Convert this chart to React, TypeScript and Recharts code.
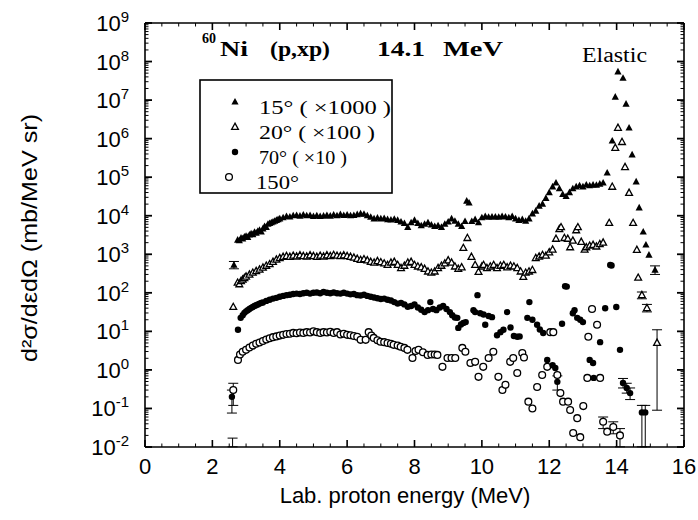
import React from 'react';
import { ScatterChart, Scatter, XAxis, YAxis, ErrorBar } from 'recharts';

// [energy MeV, plotted value] or [energy, value, errLow, errHigh]
type Pt = number[];

const xMajor = [0, 2, 4, 6, 8, 10, 12, 14, 16];
const xTickLabels = ['0', '2', '4', '6', '8', '10', '12', '14', '16'];
const yMajor = [1e-2, 1e-1, 1, 10, 100, 1e3, 1e4, 1e5, 1e6, 1e7, 1e8, 1e9];
const yExp = ['-2', '-1', '0', '1', '2', '3', '4', '5', '6', '7', '8', '9'];

const legendLabels = ['15° ( ×1000 )', '20° ( ×100 )', '70° ( ×10 )', '150°'];

// 15 deg (x1000), filled triangles
const s15: Pt[] = [
  [2.64, 525, 420, 650],
  [2.75, 2340], [2.8, 2240], [2.85, 2630], [2.9, 2510], [2.95, 2820], [3.0, 2950], [3.05, 2750],
  [3.1, 3160], [3.15, 3390], [3.2, 3240], [3.25, 3720], [3.3, 3550], [3.35, 3980], [3.4, 4170],
  [3.45, 3800], [3.5, 4570], [3.55, 5250], [3.6, 5010], [3.65, 6030], [3.7, 6310], [3.75, 6610],
  [3.8, 6920], [3.85, 7240], [3.9, 7590], [3.95, 7940], [4.0, 8320], [4.1, 8910], [4.2, 9550],
  [4.3, 9330], [4.4, 10000], [4.5, 10200], [4.6, 9770], [4.7, 10500], [4.8, 10000], [4.9, 10200],
  [5.0, 9550], [5.1, 10000], [5.2, 9550], [5.3, 9770], [5.4, 10200], [5.5, 9770], [5.6, 10500],
  [5.7, 10000], [5.8, 10700], [5.9, 10200], [6.0, 10500], [6.1, 10000], [6.2, 10200], [6.3, 10700],
  [6.4, 11200], [6.5, 11000], [6.6, 10000], [6.7, 9120], [6.8, 8320], [6.9, 8710], [7.0, 8320],
  [7.1, 8510], [7.2, 7940], [7.3, 7760], [7.4, 8130], [7.5, 7590], [7.6, 6920], [7.7, 6310],
  [7.8, 5010], [7.9, 6610], [8.0, 7590], [8.1, 6310], [8.2, 5500], [8.3, 6030], [8.4, 6610],
  [8.5, 5750], [8.6, 5250], [8.7, 5500], [8.8, 5010], [8.9, 6030], [9.0, 6920], [9.1, 8320],
  [9.2, 7240], [9.3, 6030], [9.4, 5250], [9.5, 7080], [9.55, 24000], [9.62, 21400], [9.7, 7080],
  [9.8, 7940], [9.9, 6610], [10.0, 8910], [10.1, 9550], [10.2, 9120], [10.3, 9330], [10.4, 9330],
  [10.5, 9120], [10.6, 9550], [10.7, 9330], [10.8, 8910], [10.9, 9550], [11.0, 8320], [11.1, 7590],
  [11.2, 7940], [11.3, 7240], [11.4, 8320], [11.5, 11200], [11.6, 13200], [11.7, 17800], [11.8, 20000],
  [11.9, 28200], [12.0, 39800], [12.1, 56200], [12.2, 70800], [12.3, 50100], [12.4, 35500],
  [12.5, 31600], [12.6, 39800], [12.7, 50100], [12.8, 56200], [12.9, 60300], [13.0, 56200],
  [13.1, 63100], [13.2, 60300], [13.3, 63100], [13.4, 61700], [13.5, 66100], [13.6, 70800],
  [13.72, 129000], [13.87, 871000], [13.96, 1.2e7], [14.04, 5.4e7], [14.19, 3.7e7], [14.28, 7.9e6],
  [14.37, 1.9e6], [14.46, 3.8e5], [14.58, 7.6e4], [14.67, 1.6e4], [14.79, 3800], [14.87, 1740],
  [14.96, 955], [15.14, 390, 300, 500],
];

// 20 deg (x100), open triangles
const s20: Pt[] = [
  [2.62, 42.7],
  [2.75, 182], [2.8, 166], [2.85, 200], [2.9, 219], [2.95, 240], [3.0, 263], [3.1, 295], [3.2, 331],
  [3.3, 363], [3.4, 398], [3.5, 447], [3.6, 501], [3.7, 550], [3.8, 631], [3.9, 724], [4.0, 794],
  [4.1, 851], [4.2, 891], [4.3, 851], [4.4, 912], [4.5, 871], [4.6, 933], [4.7, 891], [4.8, 871],
  [4.9, 933], [5.0, 891], [5.1, 851], [5.2, 912], [5.3, 871], [5.4, 933], [5.5, 891], [5.6, 955],
  [5.7, 912], [5.8, 891], [5.9, 933], [6.0, 891], [6.1, 851], [6.2, 813], [6.3, 759], [6.4, 708],
  [6.5, 741], [6.6, 692], [6.7, 631], [6.8, 603], [6.9, 661], [7.0, 617], [7.1, 575], [7.2, 525],
  [7.3, 603], [7.4, 631], [7.5, 525], [7.6, 437], [7.7, 501], [7.8, 603], [7.9, 631], [8.0, 525],
  [8.1, 479], [8.2, 457], [8.3, 417], [8.4, 355], [8.5, 331], [8.6, 355], [8.7, 437], [8.8, 501],
  [8.9, 575], [9.0, 692], [9.1, 603], [9.2, 479], [9.3, 417], [9.4, 457], [9.45, 1450], [9.57, 2630],
  [9.69, 851], [9.8, 525], [9.9, 347], [10.0, 479], [10.05, 525], [10.15, 437], [10.25, 479],
  [10.35, 525], [10.45, 437], [10.55, 501], [10.65, 525], [10.75, 457], [10.85, 501], [10.95, 479],
  [11.05, 437], [11.15, 355], [11.23, 257], [11.3, 331], [11.4, 355], [11.5, 389], [11.6, 794],
  [11.7, 871], [11.8, 955], [11.9, 912], [12.0, 1120], [12.1, 1320], [12.2, 2510], [12.3, 4470],
  [12.35, 5010], [12.45, 2630], [12.55, 2510], [12.62, 1510], [12.7, 2240], [12.8, 4170],
  [12.85, 5010], [12.95, 2090], [13.05, 1320], [13.1, 1510], [13.2, 1660], [13.3, 1740],
  [13.4, 1580], [13.5, 1820], [13.6, 2000], [13.78, 6460], [13.87, 56200], [13.96, 575000],
  [14.04, 1.9e6], [14.16, 813000], [14.25, 182000], [14.37, 38900], [14.49, 6460], [14.6, 1290],
  [14.64, 245], [14.75, 87, 70, 105], [14.9, 40, 32, 50], [15.2, 5, 0.09, 11],
];

// 70 deg (x10), filled circles
const s70: Pt[] = [
  [2.58, 0.2, 0.076, 0.3], [2.76, 11],
  [2.84, 22.4], [2.9, 26.3], [2.95, 30.2], [3.0, 33.1], [3.05, 35.5], [3.1, 38], [3.15, 40.7],
  [3.2, 42.7], [3.25, 45.7], [3.3, 47.9], [3.35, 50.1], [3.4, 52.5], [3.45, 54.9], [3.5, 56.2],
  [3.6, 61.7], [3.7, 66.1], [3.8, 70.8], [3.9, 74.1], [4.0, 79.4], [4.1, 83.2], [4.2, 87.1],
  [4.3, 89.1], [4.4, 93.3], [4.5, 95.5], [4.6, 93.3], [4.7, 97.7], [4.8, 100], [4.9, 95.5],
  [5.0, 100], [5.1, 102], [5.2, 97.7], [5.3, 105], [5.4, 100], [5.5, 97.7], [5.6, 102], [5.7, 97.7],
  [5.8, 95.5], [5.9, 100], [6.0, 95.5], [6.1, 91.2], [6.2, 93.3], [6.3, 87.1], [6.4, 85.1],
  [6.5, 89.1], [6.6, 83.2], [6.7, 79.4], [6.8, 75.9], [6.9, 72.4], [7.0, 69.2], [7.1, 70.8],
  [7.2, 66.1], [7.3, 63.1], [7.4, 57.5], [7.5, 52.5], [7.6, 55], [7.7, 50.1], [7.8, 43.7],
  [7.9, 45.7], [8.0, 50.1], [8.1, 41.7], [8.2, 36.3], [8.3, 31.6], [8.4, 35.5], [8.47, 57.5],
  [8.55, 38], [8.65, 35.5], [8.75, 41.7], [8.85, 45.7], [8.95, 38], [9.05, 31.6], [9.12, 26.3],
  [9.2, 22.9], [9.27, 22.4], [9.3, 12.3], [9.38, 15.1], [9.45, 16.6], [9.52, 17.4], [9.75, 35.5],
  [9.8, 31.6], [9.87, 87.1], [9.95, 29.5], [10.05, 27.5], [10.1, 14.8], [10.2, 25.1], [10.3, 23.4],
  [10.45, 7.94], [10.55, 9.55], [10.64, 11], [10.75, 31.6], [10.85, 12.6], [10.95, 7.59],
  [11.05, 7.24], [11.12, 7.41], [11.35, 22.4], [11.41, 57.5], [11.5, 20], [11.64, 14.8],
  [11.72, 11.2], [11.82, 9.1], [11.94, 1.82], [12.1, 1.32], [12.18, 1.12], [12.24, 0.49, 0.3, 0.7],
  [12.38, 15.8], [12.47, 148], [12.52, 145], [12.7, 29.5], [12.75, 35.5], [12.83, 22.4],
  [12.92, 20], [13.0, 17.4], [13.2, 1.82], [13.3, 1.51], [13.32, 0.62], [13.51, 5.25], [13.66, 39.8],
  [13.81, 525], [13.85, 510], [13.99, 42.7], [14.1, 3.31], [14.19, 0.46, 0.34, 0.6],
  [14.3, 0.34, 0.25, 0.45], [14.4, 0.25, 0.17, 0.34], [14.75, 0.079, 0.0101, 0.12],
  [14.85, 0.079, 0.0101, 0.12],
];

// 150 deg, open circles
const s150: Pt[] = [
  [2.62, 0.3, 0.12, 0.45],
  [2.76, 1.82], [2.82, 2.51], [2.9, 2.95], [3.0, 3.31], [3.1, 3.8], [3.2, 4.27], [3.3, 4.79],
  [3.4, 5.13], [3.5, 5.62], [3.6, 6.17], [3.7, 6.61], [3.8, 7.08], [3.9, 7.41], [4.0, 7.76],
  [4.1, 8.13], [4.2, 8.51], [4.3, 8.71], [4.4, 9.12], [4.5, 8.91], [4.6, 9.33], [4.7, 9.12],
  [4.8, 9.55], [4.9, 9.33], [5.0, 10], [5.1, 9.55], [5.2, 9.12], [5.3, 9.55], [5.4, 9.33],
  [5.5, 9.77], [5.6, 9.12], [5.7, 9.55], [5.8, 8.32], [5.9, 8.71], [6.0, 8.13], [6.1, 7.94],
  [6.2, 7.59], [6.3, 7.24], [6.4, 6.03], [6.55, 6.03], [6.64, 9.55], [6.72, 7.76], [6.79, 6.76],
  [6.9, 5.89], [6.99, 5.37], [7.1, 5.25], [7.2, 5.01], [7.3, 4.79], [7.38, 4.47], [7.5, 4.27],
  [7.59, 3.98], [7.7, 3.72], [7.79, 3.31], [7.94, 2.04], [8.03, 3.09], [8.12, 3.31], [8.25, 2.88],
  [8.39, 2.45], [8.5, 2.51], [8.6, 2.51], [8.68, 2.45], [8.83, 1.2], [8.98, 2.04], [9.1, 2.04],
  [9.21, 2.04], [9.42, 3.72], [9.51, 2.95], [9.66, 1.51], [9.8, 1.62], [9.9, 0.66], [10.04, 1.2],
  [10.2, 2.04], [10.34, 2.95], [10.49, 0.66], [10.61, 0.3], [10.7, 0.41], [10.84, 1.62],
  [10.93, 2.04], [11.05, 0.83], [11.2, 2.75], [11.25, 2.1], [11.38, 0.15], [11.5, 0.1],
  [11.64, 0.36], [11.79, 0.74], [11.94, 1.2], [12.03, 9.55], [12.12, 9.55], [12.24, 0.74],
  [12.33, 0.25], [12.41, 0.15], [12.56, 0.15], [12.62, 0.091], [12.71, 0.023], [12.83, 0.056],
  [12.92, 0.018], [13.01, 0.115], [13.13, 0.62], [13.16, 7.24], [13.27, 38], [13.42, 14.8],
  [13.51, 0.62], [13.6, 0.045, 0.03, 0.06], [13.72, 0.025], [13.9, 0.033, 0.022, 0.045],
  [14.1, 0.02, 0.0101, 0.03],
];

// bare error bars without a marker
const sBare: Pt[] = [[2.6, 0.0125, 0.0101, 0.017]];

const rows = (pts: Pt[]) =>
  pts.map(([x, y, lo, hi]) => ({ x, y, err: lo !== undefined ? [y - lo, hi - y] : undefined }));

const xMinor: number[] = [];
for (let i = 0; i <= 32; i++) xMinor.push(i / 2);
const yMinor: number[] = [];
yMajor.slice(0, -1).forEach((d) => {
  for (let k = 2; k <= 9; k++) yMinor.push(d * k);
});
const yTicks = [...yMajor, ...yMinor];

const sans = 'Liberation Sans, Arial, sans-serif';
const serif = 'Liberation Serif, Times New Roman, serif';

const TriFilled = (p: any) => (
  <polygon points={`${p.cx},${p.cy - 4} ${p.cx - 3.6},${p.cy + 2.6} ${p.cx + 3.6},${p.cy + 2.6}`} fill="#000" />
);
const TriOpen = (p: any) => (
  <polygon points={`${p.cx},${p.cy - 3.8} ${p.cx - 3.4},${p.cy + 2.4} ${p.cx + 3.4},${p.cy + 2.4}`} fill="#fff" stroke="#000" strokeWidth={1.3} />
);
const DotFilled = (p: any) => <circle cx={p.cx} cy={p.cy} r={3.2} fill="#000" />;
const DotOpen = (p: any) => <circle cx={p.cx} cy={p.cy} r={3.4} fill="#fff" stroke="#000" strokeWidth={1.3} />;
const NoMark = () => <g />;

// plot frame: x 145..684, y 23..447
const LEFT = 145;
const RIGHT = 684;
const TOP = 23;
const BOTTOM = 447;

const YTick = (props: any) => {
  const { y, payload, side } = props;
  const idx = yMajor.indexOf(payload.value);
  const major = idx >= 0;
  const x = side === 'left' ? LEFT : RIGHT;
  const dir = side === 'left' ? 1 : -1;
  return (
    <g>
      <line x1={x} x2={x + dir * (major ? 7 : 3.5)} y1={y} y2={y} stroke="#000" strokeWidth={major ? 1.8 : 1} />
      {major && side === 'left' && (
        <text x={x - 16} y={y + 8} textAnchor="end" fontFamily={sans} fontSize={22} fill="#000">
          10<tspan dy={-9} fontSize={15}>{yExp[idx]}</tspan>
        </text>
      )}
    </g>
  );
};

const XTick = (props: any) => {
  const { x, payload, side } = props;
  const idx = xMajor.indexOf(payload.value);
  const major = idx >= 0;
  const y = side === 'bottom' ? BOTTOM : TOP;
  const dir = side === 'bottom' ? -1 : 1;
  return (
    <g>
      <line x1={x} x2={x} y1={y} y2={y + dir * (major ? 7 : 3.5)} stroke="#000" strokeWidth={major ? 1.6 : 1} />
      {major && side === 'bottom' && (
        <text x={x} y={y + 27} textAnchor="middle" fontFamily={sans} fontSize={22} fill="#000">
          {xTickLabels[idx]}
        </text>
      )}
    </g>
  );
};

const LegendMark = ({ i, x, y }: { i: number; x: number; y: number }) => {
  const p = { cx: x, cy: y };
  if (i === 0) return <TriFilled {...p} />;
  if (i === 1) return <TriOpen {...p} />;
  if (i === 2) return <DotFilled {...p} />;
  return <DotOpen {...p} />;
};

export default function App() {
  const bar = <ErrorBar dataKey="err" direction="y" width={5} stroke="#000" strokeWidth={1} />;
  const axisLine = { stroke: '#000', strokeWidth: 1.6 };
  return (
    <div style={{ position: 'absolute', left: 0, top: 0, width: 698, height: 520, background: '#fff' }}>
      <ScatterChart width={698} height={520} margin={{ top: TOP - 2, right: 698 - RIGHT - 2, bottom: 520 - BOTTOM - 2, left: LEFT - 2 }}>
        <XAxis
          xAxisId="b" dataKey="x" type="number" domain={[0, 16]} ticks={xMinor} interval={0}
          allowDataOverflow height={2} tickSize={0} tickMargin={0} tickLine={false}
          axisLine={axisLine} tick={<XTick side="bottom" />}
        />
        <XAxis
          xAxisId="t" orientation="top" dataKey="x" type="number" domain={[0, 16]} ticks={xMinor}
          interval={0} allowDataOverflow height={2} tickSize={0} tickMargin={0} tickLine={false}
          axisLine={axisLine} tick={<XTick side="top" />}
        />
        <YAxis
          yAxisId="l" dataKey="y" type="number" scale="log" domain={[0.01, 1e9]} ticks={yTicks}
          interval={0} allowDataOverflow width={2} tickSize={0} tickMargin={0} tickLine={false}
          axisLine={axisLine} tick={<YTick side="left" />}
        />
        <YAxis
          yAxisId="r" orientation="right" dataKey="y" type="number" scale="log" domain={[0.01, 1e9]}
          ticks={yTicks} interval={0} allowDataOverflow width={2} tickSize={0} tickMargin={0}
          tickLine={false} axisLine={axisLine} tick={<YTick side="right" />}
        />
        <Scatter xAxisId="t" yAxisId="r" data={rows(sBare)} shape={NoMark} isAnimationActive={false} />
        <Scatter xAxisId="b" yAxisId="l" data={rows(sBare)} shape={NoMark} isAnimationActive={false}>{bar}</Scatter>
        <Scatter xAxisId="b" yAxisId="l" data={rows(s150)} shape={DotOpen} isAnimationActive={false}>{bar}</Scatter>
        <Scatter xAxisId="b" yAxisId="l" data={rows(s70)} shape={DotFilled} isAnimationActive={false}>{bar}</Scatter>
        <Scatter xAxisId="b" yAxisId="l" data={rows(s20)} shape={TriOpen} isAnimationActive={false}>{bar}</Scatter>
        <Scatter xAxisId="b" yAxisId="l" data={rows(s15)} shape={TriFilled} isAnimationActive={false}>{bar}</Scatter>
      </ScatterChart>
      <svg width={698} height={520} style={{ position: 'absolute', left: 0, top: 0, pointerEvents: 'none' }}>
        <text x={202} y={43} fontFamily={serif} fontWeight="bold" fontSize={14}>60</text>
        <text x={220} y={56} fontFamily={serif} fontWeight="bold" fontSize={21} textLength={28} lengthAdjust="spacingAndGlyphs">Ni</text>
        <text x={270} y={56} fontFamily={serif} fontWeight="bold" fontSize={21} textLength={60} lengthAdjust="spacingAndGlyphs">(p,xp)</text>
        <text x={377} y={56} fontFamily={serif} fontWeight="bold" fontSize={21} textLength={48} lengthAdjust="spacingAndGlyphs">14.1</text>
        <text x={443} y={56} fontFamily={serif} fontWeight="bold" fontSize={21} textLength={60} lengthAdjust="spacingAndGlyphs">MeV</text>
        <text x={582} y={62} fontFamily={serif} fontSize={20} textLength={65} lengthAdjust="spacingAndGlyphs">Elastic</text>
        <rect x={200} y={80} width={192} height={113} fill="#fff" stroke="#000" strokeWidth={1.6} />
        {legendLabels.map((t, i) => (
          <g key={t}>
            <LegendMark i={i} x={i === 3 ? 229 : 235} y={102 + i * 25} />
            <text
              x={i === 3 ? 256 : 259} y={114 + i * 25} fontFamily={serif} fontSize={19}
              textLength={[132, 116, 88, 43][i]} lengthAdjust="spacingAndGlyphs"
            >
              {t}
            </text>
          </g>
        ))}
        <text x={405} y={503} textAnchor="middle" fontFamily={sans} fontSize={22}>Lab. proton energy (MeV)</text>
        <text
          transform="translate(37,238) rotate(-90)" textAnchor="middle" fontFamily={sans} fontSize={22}
          textLength={248} lengthAdjust="spacingAndGlyphs"
        >
          d²σ/dεdΩ (mb/MeV sr)
        </text>
      </svg>
    </div>
  );
}
